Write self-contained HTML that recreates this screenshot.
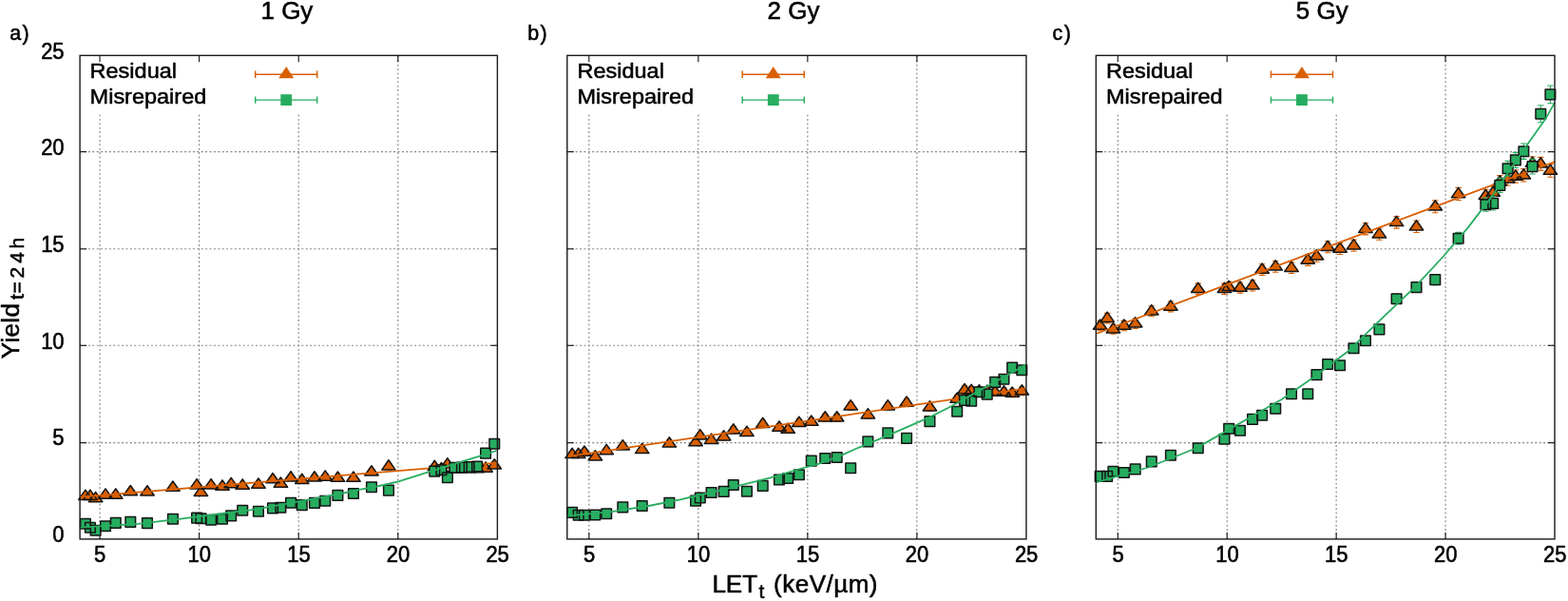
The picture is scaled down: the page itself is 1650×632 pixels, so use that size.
<!DOCTYPE html>
<html lang="en">
<head>
<meta charset="utf-8">
<title>Residual and misrepaired yields vs LET</title>
<style>
html,body{margin:0;padding:0;background:#fff;}
body{width:1650px;height:632px;overflow:hidden;font-family:"Liberation Sans",Arial,Helvetica,sans-serif;}
svg{display:block;}
</style>
</head>
<body>
<svg width="1650" height="632" viewBox="0 0 1650 632" font-family="'Liberation Sans', Arial, Helvetica, sans-serif" fill="#000" role="img" aria-label="Residual and misrepaired yields versus LET for 1, 2 and 5 Gy">
<rect x="0" y="0" width="1650" height="632" fill="#fff"/>
<g id="panel-a">
<g stroke="#858585" stroke-width="1.1" stroke-dasharray="2 2.4" fill="none">
<line x1="105.02" y1="566.9" x2="105.02" y2="58.35"/>
<line x1="209.61" y1="566.9" x2="209.61" y2="58.35"/>
<line x1="314.21" y1="566.9" x2="314.21" y2="58.35"/>
<line x1="418.8" y1="566.9" x2="418.8" y2="58.35"/>
<line x1="84.1" y1="465.6" x2="523.4" y2="465.6"/>
<line x1="84.1" y1="363.3" x2="523.4" y2="363.3"/>
<line x1="84.1" y1="261.8" x2="523.4" y2="261.8"/>
<line x1="84.1" y1="159.6" x2="523.4" y2="159.6"/>
</g>
<rect x="84.1" y="58.35" width="255.9" height="61.35" fill="#fff"/>
<g stroke="#1a1a1a" stroke-width="1.15" fill="none">
<line x1="105.02" y1="566.9" x2="105.02" y2="559.9"/>
<line x1="105.02" y1="58.35" x2="105.02" y2="65.35"/>
<line x1="209.61" y1="566.9" x2="209.61" y2="559.9"/>
<line x1="209.61" y1="58.35" x2="209.61" y2="65.35"/>
<line x1="314.21" y1="566.9" x2="314.21" y2="559.9"/>
<line x1="314.21" y1="58.35" x2="314.21" y2="65.35"/>
<line x1="418.8" y1="566.9" x2="418.8" y2="559.9"/>
<line x1="418.8" y1="58.35" x2="418.8" y2="65.35"/>
<line x1="84.1" y1="465.6" x2="91.1" y2="465.6"/>
<line x1="523.4" y1="465.6" x2="516.4" y2="465.6"/>
<line x1="84.1" y1="363.3" x2="91.1" y2="363.3"/>
<line x1="523.4" y1="363.3" x2="516.4" y2="363.3"/>
<line x1="84.1" y1="261.8" x2="91.1" y2="261.8"/>
<line x1="523.4" y1="261.8" x2="516.4" y2="261.8"/>
<line x1="84.1" y1="159.6" x2="91.1" y2="159.6"/>
<line x1="523.4" y1="159.6" x2="516.4" y2="159.6"/>
</g>
<g stroke="#d95f02" stroke-width="1.1" fill="none">
<path d="M89.89 519.32V523.98M86.69 519.32h6.4M86.69 523.98h6.4"/>
<path d="M94.89 519.32V523.98M91.69 519.32h6.4M91.69 523.98h6.4"/>
<path d="M100.61 521.68V526.22M97.41 521.68h6.4M97.41 526.22h6.4"/>
<path d="M111 518.09V522.81M107.8 518.09h6.4M107.8 522.81h6.4"/>
<path d="M121.75 518.09V522.81M118.55 518.09h6.4M118.55 522.81h6.4"/>
<path d="M137.3 514.61V519.49M134.1 514.61h6.4M134.1 519.49h6.4"/>
<path d="M154.99 514.81V519.69M151.79 514.81h6.4M151.79 519.69h6.4"/>
<path d="M181.9 510V515.1M178.7 510h6.4M178.7 515.1h6.4"/>
<path d="M207.1 507.54V512.76M203.9 507.54h6.4M203.9 512.76h6.4"/>
<path d="M211.39 515.22V520.08M208.19 515.22h6.4M208.19 520.08h6.4"/>
<path d="M222.1 507.54V512.76M218.9 507.54h6.4M218.9 512.76h6.4"/>
<path d="M234.01 508.87V514.03M230.81 508.87h6.4M230.81 514.03h6.4"/>
<path d="M243.19 506.32V511.58M239.99 506.32h6.4M239.99 511.58h6.4"/>
<path d="M255.22 507.85V513.05M252.02 507.85h6.4M252.02 513.05h6.4"/>
<path d="M271.95 506.83V512.07M268.75 506.83h6.4M268.75 512.07h6.4"/>
<path d="M287.01 501.31V506.79M283.81 501.31h6.4M283.81 506.79h6.4"/>
<path d="M295.38 505.91V511.19M292.18 505.91h6.4M292.18 511.19h6.4"/>
<path d="M306.05 499.47V505.03M302.85 499.47h6.4M302.85 505.03h6.4"/>
<path d="M317.77 502.13V507.57M314.57 502.13h6.4M314.57 507.57h6.4"/>
<path d="M330.94 499.57V505.13M327.74 499.57h6.4M327.74 505.13h6.4"/>
<path d="M342.24 498.65V504.25M339.04 498.65h6.4M339.04 504.25h6.4"/>
<path d="M355.42 499.78V505.32M352.22 499.78h6.4M352.22 505.32h6.4"/>
<path d="M371.95 499.78V505.32M368.75 499.78h6.4M368.75 505.32h6.4"/>
<path d="M390.98 493.35V499.15M387.78 493.35h6.4M387.78 499.15h6.4"/>
<path d="M408.97 487.33V493.37M405.77 487.33h6.4M405.77 493.37h6.4"/>
<path d="M457.3 487.84V493.86M454.1 487.84h6.4M454.1 493.86h6.4"/>
<path d="M464.41 490.08V496.02M461.21 490.08h6.4M461.21 496.02h6.4"/>
<path d="M470.89 485.29V491.41M467.69 485.29h6.4M467.69 491.41h6.4"/>
<path d="M478.42 490.08V496.02M475.22 490.08h6.4M475.22 496.02h6.4"/>
<path d="M485.95 490.08V496.02M482.75 490.08h6.4M482.75 496.02h6.4"/>
<path d="M493.69 490.08V496.02M490.49 490.08h6.4M490.49 496.02h6.4"/>
<path d="M502.06 490.08V496.02M498.86 490.08h6.4M498.86 496.02h6.4"/>
<path d="M511.06 489.47V495.43M507.86 489.47h6.4M507.86 495.43h6.4"/>
<path d="M520.26 486.21V492.29M517.06 486.21h6.4M517.06 492.29h6.4"/>
</g>
<g fill="#d95f02" stroke="none">
<path d="M82.69 525.4L89.89 515.1L97.09 525.4Z"/>
<path d="M87.69 525.4L94.89 515.1L102.09 525.4Z"/>
<path d="M93.41 527.7L100.61 517.4L107.81 527.7Z"/>
<path d="M103.8 524.2L111 513.9L118.2 524.2Z"/>
<path d="M114.55 524.2L121.75 513.9L128.95 524.2Z"/>
<path d="M130.1 520.8L137.3 510.5L144.5 520.8Z"/>
<path d="M147.79 521L154.99 510.7L162.19 521Z"/>
<path d="M174.7 516.3L181.9 506L189.1 516.3Z"/>
<path d="M199.9 513.9L207.1 503.6L214.3 513.9Z"/>
<path d="M204.19 521.4L211.39 511.1L218.59 521.4Z"/>
<path d="M214.9 513.9L222.1 503.6L229.3 513.9Z"/>
<path d="M226.81 515.2L234.01 504.9L241.21 515.2Z"/>
<path d="M235.99 512.7L243.19 502.4L250.39 512.7Z"/>
<path d="M248.02 514.2L255.22 503.9L262.42 514.2Z"/>
<path d="M264.75 513.2L271.95 502.9L279.15 513.2Z"/>
<path d="M279.81 507.8L287.01 497.5L294.21 507.8Z"/>
<path d="M288.18 512.3L295.38 502L302.58 512.3Z"/>
<path d="M298.85 506L306.05 495.7L313.25 506Z"/>
<path d="M310.57 508.6L317.77 498.3L324.97 508.6Z"/>
<path d="M323.74 506.1L330.94 495.8L338.14 506.1Z"/>
<path d="M335.04 505.2L342.24 494.9L349.44 505.2Z"/>
<path d="M348.22 506.3L355.42 496L362.62 506.3Z"/>
<path d="M364.75 506.3L371.95 496L379.15 506.3Z"/>
<path d="M383.78 500L390.98 489.7L398.18 500Z"/>
<path d="M401.77 494.1L408.97 483.8L416.17 494.1Z"/>
<path d="M450.1 494.6L457.3 484.3L464.5 494.6Z"/>
<path d="M457.21 496.8L464.41 486.5L471.61 496.8Z"/>
<path d="M463.69 492.1L470.89 481.8L478.09 492.1Z"/>
<path d="M471.22 496.8L478.42 486.5L485.62 496.8Z"/>
<path d="M478.75 496.8L485.95 486.5L493.15 496.8Z"/>
<path d="M486.49 496.8L493.69 486.5L500.89 496.8Z"/>
<path d="M494.86 496.8L502.06 486.5L509.26 496.8Z"/>
<path d="M503.86 496.2L511.06 485.9L518.26 496.2Z"/>
<path d="M513.06 493L520.26 482.7L527.46 493Z"/>
</g>
<g fill="none" stroke="#141414" stroke-width="1.5" stroke-linejoin="round">
<path d="M82.69 525.4L89.89 515.1L97.09 525.4Z"/>
<path d="M87.69 525.4L94.89 515.1L102.09 525.4Z"/>
<path d="M93.41 527.7L100.61 517.4L107.81 527.7Z"/>
<path d="M103.8 524.2L111 513.9L118.2 524.2Z"/>
<path d="M114.55 524.2L121.75 513.9L128.95 524.2Z"/>
<path d="M130.1 520.8L137.3 510.5L144.5 520.8Z"/>
<path d="M147.79 521L154.99 510.7L162.19 521Z"/>
<path d="M174.7 516.3L181.9 506L189.1 516.3Z"/>
<path d="M199.9 513.9L207.1 503.6L214.3 513.9Z"/>
<path d="M204.19 521.4L211.39 511.1L218.59 521.4Z"/>
<path d="M214.9 513.9L222.1 503.6L229.3 513.9Z"/>
<path d="M226.81 515.2L234.01 504.9L241.21 515.2Z"/>
<path d="M235.99 512.7L243.19 502.4L250.39 512.7Z"/>
<path d="M248.02 514.2L255.22 503.9L262.42 514.2Z"/>
<path d="M264.75 513.2L271.95 502.9L279.15 513.2Z"/>
<path d="M279.81 507.8L287.01 497.5L294.21 507.8Z"/>
<path d="M288.18 512.3L295.38 502L302.58 512.3Z"/>
<path d="M298.85 506L306.05 495.7L313.25 506Z"/>
<path d="M310.57 508.6L317.77 498.3L324.97 508.6Z"/>
<path d="M323.74 506.1L330.94 495.8L338.14 506.1Z"/>
<path d="M335.04 505.2L342.24 494.9L349.44 505.2Z"/>
<path d="M348.22 506.3L355.42 496L362.62 506.3Z"/>
<path d="M364.75 506.3L371.95 496L379.15 506.3Z"/>
<path d="M383.78 500L390.98 489.7L398.18 500Z"/>
<path d="M401.77 494.1L408.97 483.8L416.17 494.1Z"/>
<path d="M450.1 494.6L457.3 484.3L464.5 494.6Z"/>
<path d="M457.21 496.8L464.41 486.5L471.61 496.8Z"/>
<path d="M463.69 492.1L470.89 481.8L478.09 492.1Z"/>
<path d="M471.22 496.8L478.42 486.5L485.62 496.8Z"/>
<path d="M478.75 496.8L485.95 486.5L493.15 496.8Z"/>
<path d="M486.49 496.8L493.69 486.5L500.89 496.8Z"/>
<path d="M494.86 496.8L502.06 486.5L509.26 496.8Z"/>
<path d="M503.86 496.2L511.06 485.9L518.26 496.2Z"/>
<path d="M513.06 493L520.26 482.7L527.46 493Z"/>
</g>
<polyline fill="none" stroke="#d95f02" stroke-width="1.8" stroke-linejoin="round" points="84.1,522.6 523.4,486.6"/>
<g stroke="#27ad60" stroke-width="1.1" fill="none">
<path d="M89.89 550.48V551.12M86.69 550.48h6.4M86.69 551.12h6.4"/>
<path d="M94.89 554.56V555.04M91.69 554.56h6.4M91.69 555.04h6.4"/>
<path d="M100.61 557.51V557.89M97.41 557.51h6.4M97.41 557.89h6.4"/>
<path d="M111 553.03V553.57M107.8 553.03h6.4M107.8 553.57h6.4"/>
<path d="M121.75 549.56V550.24M118.55 549.56h6.4M118.55 550.24h6.4"/>
<path d="M137.3 548.54V549.26M134.1 548.54h6.4M134.1 549.26h6.4"/>
<path d="M154.99 549.76V550.44M151.79 549.76h6.4M151.79 550.44h6.4"/>
<path d="M181.9 545.27V546.13M178.7 545.27h6.4M178.7 546.13h6.4"/>
<path d="M207.1 544.15V545.05M203.9 544.15h6.4M203.9 545.05h6.4"/>
<path d="M211.39 544.76V545.64M208.19 544.76h6.4M208.19 545.64h6.4"/>
<path d="M222.1 546.29V547.11M218.9 546.29h6.4M218.9 547.11h6.4"/>
<path d="M234.01 545.37V546.23M230.81 545.37h6.4M230.81 546.23h6.4"/>
<path d="M243.19 541.91V542.89M239.99 541.91h6.4M239.99 542.89h6.4"/>
<path d="M255.22 536.09V537.31M252.02 536.09h6.4M252.02 537.31h6.4"/>
<path d="M271.95 537.21V538.39M268.75 537.21h6.4M268.75 538.39h6.4"/>
<path d="M287.01 533.74V535.06M283.81 533.74h6.4M283.81 535.06h6.4"/>
<path d="M295.38 533.13V534.47M292.18 533.13h6.4M292.18 534.47h6.4"/>
<path d="M306.05 528.03V529.57M302.85 528.03h6.4M302.85 529.57h6.4"/>
<path d="M317.77 530.38V531.82M314.57 530.38h6.4M314.57 531.82h6.4"/>
<path d="M330.94 528.13V529.67M327.74 528.13h6.4M327.74 529.67h6.4"/>
<path d="M342.24 525.89V527.51M339.04 525.89h6.4M339.04 527.51h6.4"/>
<path d="M355.42 519.97V521.83M352.22 519.97h6.4M352.22 521.83h6.4"/>
<path d="M371.95 518.03V519.97M368.75 518.03h6.4M368.75 519.97h6.4"/>
<path d="M390.98 511.1V513.3M387.78 511.1h6.4M387.78 513.3h6.4"/>
<path d="M408.97 514.57V516.63M405.77 514.57h6.4M405.77 516.63h6.4"/>
<path d="M457.3 494.16V497.04M454.1 494.16h6.4M454.1 497.04h6.4"/>
<path d="M464.41 492.84V495.76M461.21 492.84h6.4M461.21 495.76h6.4"/>
<path d="M470.89 500.9V503.5M467.69 500.9h6.4M467.69 503.5h6.4"/>
<path d="M478.42 490.29V493.31M475.22 490.29h6.4M475.22 493.31h6.4"/>
<path d="M485.95 489.98V493.02M482.75 489.98h6.4M482.75 493.02h6.4"/>
<path d="M493.69 489.47V492.53M490.49 489.47h6.4M490.49 492.53h6.4"/>
<path d="M502.06 488.96V492.04M498.86 488.96h6.4M498.86 492.04h6.4"/>
<path d="M511.06 474.78V478.42M507.86 474.78h6.4M507.86 478.42h6.4"/>
<path d="M520.26 464.68V468.72M517.06 464.68h6.4M517.06 468.72h6.4"/>
</g>
<g fill="#27ad60" stroke="none">
<rect x="84.59" y="545.5" width="10.6" height="10.6"/>
<rect x="89.59" y="549.5" width="10.6" height="10.6"/>
<rect x="95.31" y="552.4" width="10.6" height="10.6"/>
<rect x="105.7" y="548" width="10.6" height="10.6"/>
<rect x="116.45" y="544.6" width="10.6" height="10.6"/>
<rect x="132" y="543.6" width="10.6" height="10.6"/>
<rect x="149.69" y="544.8" width="10.6" height="10.6"/>
<rect x="176.6" y="540.4" width="10.6" height="10.6"/>
<rect x="201.8" y="539.3" width="10.6" height="10.6"/>
<rect x="206.09" y="539.9" width="10.6" height="10.6"/>
<rect x="216.8" y="541.4" width="10.6" height="10.6"/>
<rect x="228.71" y="540.5" width="10.6" height="10.6"/>
<rect x="237.89" y="537.1" width="10.6" height="10.6"/>
<rect x="249.92" y="531.4" width="10.6" height="10.6"/>
<rect x="266.65" y="532.5" width="10.6" height="10.6"/>
<rect x="281.71" y="529.1" width="10.6" height="10.6"/>
<rect x="290.08" y="528.5" width="10.6" height="10.6"/>
<rect x="300.75" y="523.5" width="10.6" height="10.6"/>
<rect x="312.47" y="525.8" width="10.6" height="10.6"/>
<rect x="325.64" y="523.6" width="10.6" height="10.6"/>
<rect x="336.94" y="521.4" width="10.6" height="10.6"/>
<rect x="350.12" y="515.6" width="10.6" height="10.6"/>
<rect x="366.65" y="513.7" width="10.6" height="10.6"/>
<rect x="385.68" y="506.9" width="10.6" height="10.6"/>
<rect x="403.67" y="510.3" width="10.6" height="10.6"/>
<rect x="452" y="490.3" width="10.6" height="10.6"/>
<rect x="459.11" y="489" width="10.6" height="10.6"/>
<rect x="465.59" y="496.9" width="10.6" height="10.6"/>
<rect x="473.12" y="486.5" width="10.6" height="10.6"/>
<rect x="480.65" y="486.2" width="10.6" height="10.6"/>
<rect x="488.39" y="485.7" width="10.6" height="10.6"/>
<rect x="496.76" y="485.2" width="10.6" height="10.6"/>
<rect x="505.76" y="471.3" width="10.6" height="10.6"/>
<rect x="514.96" y="461.4" width="10.6" height="10.6"/>
</g>
<g fill="none" stroke="#141414" stroke-width="1.5" stroke-linejoin="round">
<rect x="84.59" y="545.5" width="10.6" height="10.6"/>
<rect x="89.59" y="549.5" width="10.6" height="10.6"/>
<rect x="95.31" y="552.4" width="10.6" height="10.6"/>
<rect x="105.7" y="548" width="10.6" height="10.6"/>
<rect x="116.45" y="544.6" width="10.6" height="10.6"/>
<rect x="132" y="543.6" width="10.6" height="10.6"/>
<rect x="149.69" y="544.8" width="10.6" height="10.6"/>
<rect x="176.6" y="540.4" width="10.6" height="10.6"/>
<rect x="201.8" y="539.3" width="10.6" height="10.6"/>
<rect x="206.09" y="539.9" width="10.6" height="10.6"/>
<rect x="216.8" y="541.4" width="10.6" height="10.6"/>
<rect x="228.71" y="540.5" width="10.6" height="10.6"/>
<rect x="237.89" y="537.1" width="10.6" height="10.6"/>
<rect x="249.92" y="531.4" width="10.6" height="10.6"/>
<rect x="266.65" y="532.5" width="10.6" height="10.6"/>
<rect x="281.71" y="529.1" width="10.6" height="10.6"/>
<rect x="290.08" y="528.5" width="10.6" height="10.6"/>
<rect x="300.75" y="523.5" width="10.6" height="10.6"/>
<rect x="312.47" y="525.8" width="10.6" height="10.6"/>
<rect x="325.64" y="523.6" width="10.6" height="10.6"/>
<rect x="336.94" y="521.4" width="10.6" height="10.6"/>
<rect x="350.12" y="515.6" width="10.6" height="10.6"/>
<rect x="366.65" y="513.7" width="10.6" height="10.6"/>
<rect x="385.68" y="506.9" width="10.6" height="10.6"/>
<rect x="403.67" y="510.3" width="10.6" height="10.6"/>
<rect x="452" y="490.3" width="10.6" height="10.6"/>
<rect x="459.11" y="489" width="10.6" height="10.6"/>
<rect x="465.59" y="496.9" width="10.6" height="10.6"/>
<rect x="473.12" y="486.5" width="10.6" height="10.6"/>
<rect x="480.65" y="486.2" width="10.6" height="10.6"/>
<rect x="488.39" y="485.7" width="10.6" height="10.6"/>
<rect x="496.76" y="485.2" width="10.6" height="10.6"/>
<rect x="505.76" y="471.3" width="10.6" height="10.6"/>
<rect x="514.96" y="461.4" width="10.6" height="10.6"/>
</g>
<polyline fill="none" stroke="#27ad60" stroke-width="1.8" stroke-linejoin="round" points="84.1,554.6 145.8,550.8 168.6,548.2 192,545.4 263.4,536.3 278.6,533.8 360,518.8 378.3,514.9 396.6,511.5 408,509 420,506.2 451.6,496.2 502.3,480.4 522.5,474"/>
<rect x="84.1" y="58.35" width="439.3" height="508.55" fill="none" stroke="#1a1a1a" stroke-width="1.4"/>
<text transform="translate(94.6 81.7) scale(1 0.96)" font-size="23.5" stroke="#000" stroke-width="0.55">Residual</text>
<text transform="translate(94.6 108.9) scale(1 0.96)" font-size="23.5" stroke="#000" stroke-width="0.55">Misrepaired</text>
<path d="M268.7 78.3H333.7M268.7 74.6v7.4M333.7 74.6v7.4" stroke="#d95f02" stroke-width="1.45" fill="none"/>
<path d="M293.2 82.25L301.2 70L309.2 82.25Z" fill="#d95f02"/>
<path d="M268.7 105.1H333.7M268.7 101.4v7.4M333.7 101.4v7.4" stroke="#27ad60" stroke-width="1.45" fill="none"/>
<rect x="295.3" y="99.2" width="11.8" height="11.8" fill="#27ad60"/>
<text transform="translate(105.22 591.3) scale(1 1.06)" font-size="22" text-anchor="middle" stroke="#000" stroke-width="0.55">5</text>
<text transform="translate(209.81 591.3) scale(1 1.06)" font-size="22" text-anchor="middle" stroke="#000" stroke-width="0.55">10</text>
<text transform="translate(314.41 591.3) scale(1 1.06)" font-size="22" text-anchor="middle" stroke="#000" stroke-width="0.55">15</text>
<text transform="translate(419 591.3) scale(1 1.06)" font-size="22" text-anchor="middle" stroke="#000" stroke-width="0.55">20</text>
<text transform="translate(523.6 591.3) scale(1 1.06)" font-size="22" text-anchor="middle" stroke="#000" stroke-width="0.55">25</text>
<text transform="translate(67.6 570.2) scale(1 1.06)" font-size="22" text-anchor="end" stroke="#000" stroke-width="0.55">0</text>
<text transform="translate(67.6 468.49) scale(1 1.06)" font-size="22" text-anchor="end" stroke="#000" stroke-width="0.55">5</text>
<text transform="translate(67.6 366.78) scale(1 1.06)" font-size="22" text-anchor="end" stroke="#000" stroke-width="0.55">10</text>
<text transform="translate(67.6 265.07) scale(1 1.06)" font-size="22" text-anchor="end" stroke="#000" stroke-width="0.55">15</text>
<text transform="translate(67.6 163.36) scale(1 1.06)" font-size="22" text-anchor="end" stroke="#000" stroke-width="0.55">20</text>
<text transform="translate(67.6 61.65) scale(1 1.06)" font-size="22" text-anchor="end" stroke="#000" stroke-width="0.55">25</text>
<text transform="translate(301.9 19.9) scale(1 1.01)" font-size="26" text-anchor="middle" stroke="#000" stroke-width="0.55">1 Gy</text>
<text x="10.3" y="41.9" font-size="21.4" stroke="#000" stroke-width="0.55" letter-spacing="1.4">a)</text>
</g>
<g id="panel-b">
<g stroke="#858585" stroke-width="1.1" stroke-dasharray="2 2.4" fill="none">
<line x1="619.8" y1="566.9" x2="619.8" y2="58.35"/>
<line x1="734.83" y1="566.9" x2="734.83" y2="58.35"/>
<line x1="849.85" y1="566.9" x2="849.85" y2="58.35"/>
<line x1="964.88" y1="566.9" x2="964.88" y2="58.35"/>
<line x1="596.8" y1="465.6" x2="1079.9" y2="465.6"/>
<line x1="596.8" y1="363.3" x2="1079.9" y2="363.3"/>
<line x1="596.8" y1="261.8" x2="1079.9" y2="261.8"/>
<line x1="596.8" y1="159.6" x2="1079.9" y2="159.6"/>
</g>
<rect x="596.8" y="58.35" width="258.2" height="61.35" fill="#fff"/>
<g stroke="#1a1a1a" stroke-width="1.15" fill="none">
<line x1="619.8" y1="566.9" x2="619.8" y2="559.9"/>
<line x1="619.8" y1="58.35" x2="619.8" y2="65.35"/>
<line x1="734.83" y1="566.9" x2="734.83" y2="559.9"/>
<line x1="734.83" y1="58.35" x2="734.83" y2="65.35"/>
<line x1="849.85" y1="566.9" x2="849.85" y2="559.9"/>
<line x1="849.85" y1="58.35" x2="849.85" y2="65.35"/>
<line x1="964.88" y1="566.9" x2="964.88" y2="559.9"/>
<line x1="964.88" y1="58.35" x2="964.88" y2="65.35"/>
<line x1="596.8" y1="465.6" x2="603.8" y2="465.6"/>
<line x1="1079.9" y1="465.6" x2="1072.9" y2="465.6"/>
<line x1="596.8" y1="363.3" x2="603.8" y2="363.3"/>
<line x1="1079.9" y1="363.3" x2="1072.9" y2="363.3"/>
<line x1="596.8" y1="261.8" x2="603.8" y2="261.8"/>
<line x1="1079.9" y1="261.8" x2="1072.9" y2="261.8"/>
<line x1="596.8" y1="159.6" x2="603.8" y2="159.6"/>
<line x1="1079.9" y1="159.6" x2="1072.9" y2="159.6"/>
</g>
<g stroke="#d95f02" stroke-width="1.1" fill="none">
<path d="M602.09 474.59V481.11M598.89 474.59h6.4M598.89 481.11h6.4"/>
<path d="M608.67 474.59V481.11M605.47 474.59h6.4M605.47 481.11h6.4"/>
<path d="M614.95 472.25V478.85M611.75 472.25h6.4M611.75 478.85h6.4"/>
<path d="M626.38 477.04V483.46M623.18 477.04h6.4M623.18 483.46h6.4"/>
<path d="M638.21 470.62V477.28M635.01 470.62h6.4M635.01 477.28h6.4"/>
<path d="M655.3 465.74V472.56M652.1 465.74h6.4M652.1 472.56h6.4"/>
<path d="M675.71 469.5V476.2M672.51 469.5h6.4M672.51 476.2h6.4"/>
<path d="M704.35 462.89V469.81M701.15 462.89h6.4M701.15 469.81h6.4"/>
<path d="M732.07 461.47V468.43M728.87 461.47h6.4M728.87 468.43h6.4"/>
<path d="M736.78 454.55V461.75M733.58 454.55h6.4M733.58 461.75h6.4"/>
<path d="M748.56 459.13V466.17M745.36 459.13h6.4M745.36 466.17h6.4"/>
<path d="M761.65 455.67V462.83M758.45 455.67h6.4M758.45 462.83h6.4"/>
<path d="M771.75 448.66V456.04M768.55 448.66h6.4M768.55 456.04h6.4"/>
<path d="M785.9 450.99V458.31M782.7 450.99h6.4M782.7 458.31h6.4"/>
<path d="M802.69 442.05V449.65M799.49 442.05h6.4M799.49 449.65h6.4"/>
<path d="M819.95 445.71V453.19M816.75 445.71h6.4M816.75 453.19h6.4"/>
<path d="M829.15 447.84V455.26M825.95 447.84h6.4M825.95 455.26h6.4"/>
<path d="M840.88 440.84V448.46M837.68 440.84h6.4M837.68 448.46h6.4"/>
<path d="M853.76 439.72V447.38M850.56 439.72h6.4M850.56 447.38h6.4"/>
<path d="M868.26 435.35V443.15M865.06 435.35h6.4M865.06 443.15h6.4"/>
<path d="M880.68 435.35V443.15M877.48 435.35h6.4M877.48 443.15h6.4"/>
<path d="M895.17 423.07V431.23M891.97 423.07h6.4M891.97 431.23h6.4"/>
<path d="M913.35 432.21V440.09M910.15 432.21h6.4M910.15 440.09h6.4"/>
<path d="M934.28 423.07V431.23M931.08 423.07h6.4M931.08 431.23h6.4"/>
<path d="M954.06 419.32V427.58M950.86 419.32h6.4M950.86 427.58h6.4"/>
<path d="M978.45 424.19V432.31M975.25 424.19h6.4M975.25 432.31h6.4"/>
<path d="M1007.2 415.36V423.74M1004 415.36h6.4M1004 423.74h6.4"/>
<path d="M1015.03 405.73V414.37M1011.83 405.73h6.4M1011.83 414.37h6.4"/>
<path d="M1022.16 406.54V415.16M1018.96 406.54h6.4M1018.96 415.16h6.4"/>
<path d="M1030.44 406.95V415.55M1027.24 406.95h6.4M1027.24 415.55h6.4"/>
<path d="M1038.72 407.35V415.95M1035.52 407.35h6.4M1035.52 415.95h6.4"/>
<path d="M1047.23 407.96V416.54M1044.03 407.96h6.4M1044.03 416.54h6.4"/>
<path d="M1056.44 407.96V416.54M1053.24 407.96h6.4M1053.24 416.54h6.4"/>
<path d="M1065.18 409.28V417.82M1061.98 409.28h6.4M1061.98 417.82h6.4"/>
<path d="M1075.3 407.05V415.65M1072.1 407.05h6.4M1072.1 415.65h6.4"/>
</g>
<g fill="#d95f02" stroke="none">
<path d="M594.89 481.6L602.09 471.3L609.29 481.6Z"/>
<path d="M601.47 481.6L608.67 471.3L615.87 481.6Z"/>
<path d="M607.75 479.3L614.95 469L622.15 479.3Z"/>
<path d="M619.18 484L626.38 473.7L633.58 484Z"/>
<path d="M631.01 477.7L638.21 467.4L645.41 477.7Z"/>
<path d="M648.1 472.9L655.3 462.6L662.5 472.9Z"/>
<path d="M668.51 476.6L675.71 466.3L682.91 476.6Z"/>
<path d="M697.15 470.1L704.35 459.8L711.55 470.1Z"/>
<path d="M724.87 468.7L732.07 458.4L739.27 468.7Z"/>
<path d="M729.58 461.9L736.78 451.6L743.98 461.9Z"/>
<path d="M741.36 466.4L748.56 456.1L755.76 466.4Z"/>
<path d="M754.45 463L761.65 452.7L768.85 463Z"/>
<path d="M764.55 456.1L771.75 445.8L778.95 456.1Z"/>
<path d="M778.7 458.4L785.9 448.1L793.1 458.4Z"/>
<path d="M795.49 449.6L802.69 439.3L809.89 449.6Z"/>
<path d="M812.75 453.2L819.95 442.9L827.15 453.2Z"/>
<path d="M821.95 455.3L829.15 445L836.35 455.3Z"/>
<path d="M833.68 448.4L840.88 438.1L848.08 448.4Z"/>
<path d="M846.56 447.3L853.76 437L860.96 447.3Z"/>
<path d="M861.06 443L868.26 432.7L875.46 443Z"/>
<path d="M873.48 443L880.68 432.7L887.88 443Z"/>
<path d="M887.97 430.9L895.17 420.6L902.37 430.9Z"/>
<path d="M906.15 439.9L913.35 429.6L920.55 439.9Z"/>
<path d="M927.08 430.9L934.28 420.6L941.48 430.9Z"/>
<path d="M946.86 427.2L954.06 416.9L961.26 427.2Z"/>
<path d="M971.25 432L978.45 421.7L985.65 432Z"/>
<path d="M1000 423.3L1007.2 413L1014.4 423.3Z"/>
<path d="M1007.83 413.8L1015.03 403.5L1022.23 413.8Z"/>
<path d="M1014.96 414.6L1022.16 404.3L1029.36 414.6Z"/>
<path d="M1023.24 415L1030.44 404.7L1037.64 415Z"/>
<path d="M1031.52 415.4L1038.72 405.1L1045.92 415.4Z"/>
<path d="M1040.03 416L1047.23 405.7L1054.43 416Z"/>
<path d="M1049.24 416L1056.44 405.7L1063.64 416Z"/>
<path d="M1057.98 417.3L1065.18 407L1072.38 417.3Z"/>
<path d="M1068.1 415.1L1075.3 404.8L1082.5 415.1Z"/>
</g>
<g fill="none" stroke="#141414" stroke-width="1.5" stroke-linejoin="round">
<path d="M594.89 481.6L602.09 471.3L609.29 481.6Z"/>
<path d="M601.47 481.6L608.67 471.3L615.87 481.6Z"/>
<path d="M607.75 479.3L614.95 469L622.15 479.3Z"/>
<path d="M619.18 484L626.38 473.7L633.58 484Z"/>
<path d="M631.01 477.7L638.21 467.4L645.41 477.7Z"/>
<path d="M648.1 472.9L655.3 462.6L662.5 472.9Z"/>
<path d="M668.51 476.6L675.71 466.3L682.91 476.6Z"/>
<path d="M697.15 470.1L704.35 459.8L711.55 470.1Z"/>
<path d="M724.87 468.7L732.07 458.4L739.27 468.7Z"/>
<path d="M729.58 461.9L736.78 451.6L743.98 461.9Z"/>
<path d="M741.36 466.4L748.56 456.1L755.76 466.4Z"/>
<path d="M754.45 463L761.65 452.7L768.85 463Z"/>
<path d="M764.55 456.1L771.75 445.8L778.95 456.1Z"/>
<path d="M778.7 458.4L785.9 448.1L793.1 458.4Z"/>
<path d="M795.49 449.6L802.69 439.3L809.89 449.6Z"/>
<path d="M812.75 453.2L819.95 442.9L827.15 453.2Z"/>
<path d="M821.95 455.3L829.15 445L836.35 455.3Z"/>
<path d="M833.68 448.4L840.88 438.1L848.08 448.4Z"/>
<path d="M846.56 447.3L853.76 437L860.96 447.3Z"/>
<path d="M861.06 443L868.26 432.7L875.46 443Z"/>
<path d="M873.48 443L880.68 432.7L887.88 443Z"/>
<path d="M887.97 430.9L895.17 420.6L902.37 430.9Z"/>
<path d="M906.15 439.9L913.35 429.6L920.55 439.9Z"/>
<path d="M927.08 430.9L934.28 420.6L941.48 430.9Z"/>
<path d="M946.86 427.2L954.06 416.9L961.26 427.2Z"/>
<path d="M971.25 432L978.45 421.7L985.65 432Z"/>
<path d="M1000 423.3L1007.2 413L1014.4 423.3Z"/>
<path d="M1007.83 413.8L1015.03 403.5L1022.23 413.8Z"/>
<path d="M1014.96 414.6L1022.16 404.3L1029.36 414.6Z"/>
<path d="M1023.24 415L1030.44 404.7L1037.64 415Z"/>
<path d="M1031.52 415.4L1038.72 405.1L1045.92 415.4Z"/>
<path d="M1040.03 416L1047.23 405.7L1054.43 416Z"/>
<path d="M1049.24 416L1056.44 405.7L1063.64 416Z"/>
<path d="M1057.98 417.3L1065.18 407L1072.38 417.3Z"/>
<path d="M1068.1 415.1L1075.3 404.8L1082.5 415.1Z"/>
</g>
<polyline fill="none" stroke="#d95f02" stroke-width="1.8" stroke-linejoin="round" points="596.8,480.1 1080,408.4"/>
<g stroke="#27ad60" stroke-width="1.1" fill="none">
<path d="M602.09 538.34V539.46M598.89 538.34h6.4M598.89 539.46h6.4"/>
<path d="M608.67 541.29V542.31M605.47 541.29h6.4M605.47 542.31h6.4"/>
<path d="M614.95 541.29V542.31M611.75 541.29h6.4M611.75 542.31h6.4"/>
<path d="M626.38 540.99V542.01M623.18 540.99h6.4M623.18 542.01h6.4"/>
<path d="M638.21 539.66V540.74M635.01 539.66h6.4M635.01 540.74h6.4"/>
<path d="M655.3 532.72V534.08M652.1 532.72h6.4M652.1 534.08h6.4"/>
<path d="M675.71 531.3V532.7M672.51 531.3h6.4M672.51 532.7h6.4"/>
<path d="M704.35 527.93V529.47M701.15 527.93h6.4M701.15 529.47h6.4"/>
<path d="M732.07 525.79V527.41M728.87 525.79h6.4M728.87 527.41h6.4"/>
<path d="M736.78 522.63V524.37M733.58 522.63h6.4M733.58 524.37h6.4"/>
<path d="M748.56 517.01V518.99M745.36 517.01h6.4M745.36 518.99h6.4"/>
<path d="M761.65 515.89V517.91M758.45 515.89h6.4M758.45 517.91h6.4"/>
<path d="M771.75 508.85V511.15M768.55 508.85h6.4M768.55 511.15h6.4"/>
<path d="M785.9 515.69V517.71M782.7 515.69h6.4M782.7 517.71h6.4"/>
<path d="M802.69 509.77V512.03M799.49 509.77h6.4M799.49 512.03h6.4"/>
<path d="M819.95 503.24V505.76M816.75 503.24h6.4M816.75 505.76h6.4"/>
<path d="M829.15 501.71V504.29M825.95 501.71h6.4M825.95 504.29h6.4"/>
<path d="M840.88 497.94V500.66M837.68 497.94h6.4M837.68 500.66h6.4"/>
<path d="M853.76 482.94V486.26M850.56 482.94h6.4M850.56 486.26h6.4"/>
<path d="M868.26 480.29V483.71M865.06 480.29h6.4M865.06 483.71h6.4"/>
<path d="M880.68 479.27V482.73M877.48 479.27h6.4M877.48 482.73h6.4"/>
<path d="M895.17 490.69V493.71M891.97 490.69h6.4M891.97 493.71h6.4"/>
<path d="M913.35 462.33V466.47M910.15 462.33h6.4M910.15 466.47h6.4"/>
<path d="M934.28 453.15V457.65M931.08 453.15h6.4M931.08 457.65h6.4"/>
<path d="M954.06 458.76V463.04M950.86 458.76h6.4M950.86 463.04h6.4"/>
<path d="M978.45 440.6V445.6M975.25 440.6h6.4M975.25 445.6h6.4"/>
<path d="M1007.2 430.1V435.5M1004 430.1h6.4M1004 435.5h6.4"/>
<path d="M1015.03 417.96V423.84M1011.83 417.96h6.4M1011.83 423.84h6.4"/>
<path d="M1022.16 418.77V424.63M1018.96 418.77h6.4M1018.96 424.63h6.4"/>
<path d="M1030.44 409.08V415.32M1027.24 409.08h6.4M1027.24 415.32h6.4"/>
<path d="M1038.72 411.53V417.67M1035.52 411.53h6.4M1035.52 417.67h6.4"/>
<path d="M1047.23 398.57V405.23M1044.03 398.57h6.4M1044.03 405.23h6.4"/>
<path d="M1056.44 395.41V402.19M1053.24 395.41h6.4M1053.24 402.19h6.4"/>
<path d="M1065.18 382.97V390.23M1061.98 382.97h6.4M1061.98 390.23h6.4"/>
<path d="M1075.3 385.72V392.88M1072.1 385.72h6.4M1072.1 392.88h6.4"/>
</g>
<g fill="#27ad60" stroke="none">
<rect x="596.79" y="533.6" width="10.6" height="10.6"/>
<rect x="603.37" y="536.5" width="10.6" height="10.6"/>
<rect x="609.65" y="536.5" width="10.6" height="10.6"/>
<rect x="621.08" y="536.2" width="10.6" height="10.6"/>
<rect x="632.91" y="534.9" width="10.6" height="10.6"/>
<rect x="650" y="528.1" width="10.6" height="10.6"/>
<rect x="670.41" y="526.7" width="10.6" height="10.6"/>
<rect x="699.05" y="523.4" width="10.6" height="10.6"/>
<rect x="726.77" y="521.3" width="10.6" height="10.6"/>
<rect x="731.48" y="518.2" width="10.6" height="10.6"/>
<rect x="743.26" y="512.7" width="10.6" height="10.6"/>
<rect x="756.35" y="511.6" width="10.6" height="10.6"/>
<rect x="766.45" y="504.7" width="10.6" height="10.6"/>
<rect x="780.6" y="511.4" width="10.6" height="10.6"/>
<rect x="797.39" y="505.6" width="10.6" height="10.6"/>
<rect x="814.65" y="499.2" width="10.6" height="10.6"/>
<rect x="823.85" y="497.7" width="10.6" height="10.6"/>
<rect x="835.58" y="494" width="10.6" height="10.6"/>
<rect x="848.46" y="479.3" width="10.6" height="10.6"/>
<rect x="862.96" y="476.7" width="10.6" height="10.6"/>
<rect x="875.38" y="475.7" width="10.6" height="10.6"/>
<rect x="889.87" y="486.9" width="10.6" height="10.6"/>
<rect x="908.05" y="459.1" width="10.6" height="10.6"/>
<rect x="928.98" y="450.1" width="10.6" height="10.6"/>
<rect x="948.76" y="455.6" width="10.6" height="10.6"/>
<rect x="973.15" y="437.8" width="10.6" height="10.6"/>
<rect x="1001.9" y="427.5" width="10.6" height="10.6"/>
<rect x="1009.73" y="415.6" width="10.6" height="10.6"/>
<rect x="1016.86" y="416.4" width="10.6" height="10.6"/>
<rect x="1025.14" y="406.9" width="10.6" height="10.6"/>
<rect x="1033.42" y="409.3" width="10.6" height="10.6"/>
<rect x="1041.93" y="396.6" width="10.6" height="10.6"/>
<rect x="1051.14" y="393.5" width="10.6" height="10.6"/>
<rect x="1059.88" y="381.3" width="10.6" height="10.6"/>
<rect x="1070" y="384" width="10.6" height="10.6"/>
</g>
<g fill="none" stroke="#141414" stroke-width="1.5" stroke-linejoin="round">
<rect x="596.79" y="533.6" width="10.6" height="10.6"/>
<rect x="603.37" y="536.5" width="10.6" height="10.6"/>
<rect x="609.65" y="536.5" width="10.6" height="10.6"/>
<rect x="621.08" y="536.2" width="10.6" height="10.6"/>
<rect x="632.91" y="534.9" width="10.6" height="10.6"/>
<rect x="650" y="528.1" width="10.6" height="10.6"/>
<rect x="670.41" y="526.7" width="10.6" height="10.6"/>
<rect x="699.05" y="523.4" width="10.6" height="10.6"/>
<rect x="726.77" y="521.3" width="10.6" height="10.6"/>
<rect x="731.48" y="518.2" width="10.6" height="10.6"/>
<rect x="743.26" y="512.7" width="10.6" height="10.6"/>
<rect x="756.35" y="511.6" width="10.6" height="10.6"/>
<rect x="766.45" y="504.7" width="10.6" height="10.6"/>
<rect x="780.6" y="511.4" width="10.6" height="10.6"/>
<rect x="797.39" y="505.6" width="10.6" height="10.6"/>
<rect x="814.65" y="499.2" width="10.6" height="10.6"/>
<rect x="823.85" y="497.7" width="10.6" height="10.6"/>
<rect x="835.58" y="494" width="10.6" height="10.6"/>
<rect x="848.46" y="479.3" width="10.6" height="10.6"/>
<rect x="862.96" y="476.7" width="10.6" height="10.6"/>
<rect x="875.38" y="475.7" width="10.6" height="10.6"/>
<rect x="889.87" y="486.9" width="10.6" height="10.6"/>
<rect x="908.05" y="459.1" width="10.6" height="10.6"/>
<rect x="928.98" y="450.1" width="10.6" height="10.6"/>
<rect x="948.76" y="455.6" width="10.6" height="10.6"/>
<rect x="973.15" y="437.8" width="10.6" height="10.6"/>
<rect x="1001.9" y="427.5" width="10.6" height="10.6"/>
<rect x="1009.73" y="415.6" width="10.6" height="10.6"/>
<rect x="1016.86" y="416.4" width="10.6" height="10.6"/>
<rect x="1025.14" y="406.9" width="10.6" height="10.6"/>
<rect x="1033.42" y="409.3" width="10.6" height="10.6"/>
<rect x="1041.93" y="396.6" width="10.6" height="10.6"/>
<rect x="1051.14" y="393.5" width="10.6" height="10.6"/>
<rect x="1059.88" y="381.3" width="10.6" height="10.6"/>
<rect x="1070" y="384" width="10.6" height="10.6"/>
</g>
<polyline fill="none" stroke="#27ad60" stroke-width="1.8" stroke-linejoin="round" points="596.3,542.6 645.4,537.8 685,531.5 715.8,525.4 730,522 763.3,514.3 810.8,502.4 840,493.5 862,487.6 886.3,478.4 903.3,470.8 934.4,457.8 958.5,447.4 980,437.9 999.6,428 1070.8,388.5 1080,383"/>
<rect x="596.8" y="58.35" width="483.1" height="508.55" fill="none" stroke="#1a1a1a" stroke-width="1.4"/>
<text transform="translate(607.5 81.7) scale(1 0.96)" font-size="23.5" stroke="#000" stroke-width="0.55">Residual</text>
<text transform="translate(607.5 108.9) scale(1 0.96)" font-size="23.5" stroke="#000" stroke-width="0.55">Misrepaired</text>
<path d="M781.2 78.3H846.3M781.2 74.6v7.4M846.3 74.6v7.4" stroke="#d95f02" stroke-width="1.45" fill="none"/>
<path d="M805.75 82.25L813.75 70L821.75 82.25Z" fill="#d95f02"/>
<path d="M781.2 105.1H846.3M781.2 101.4v7.4M846.3 101.4v7.4" stroke="#27ad60" stroke-width="1.45" fill="none"/>
<rect x="807.85" y="99.2" width="11.8" height="11.8" fill="#27ad60"/>
<text transform="translate(620 591.3) scale(1 1.06)" font-size="22" text-anchor="middle" stroke="#000" stroke-width="0.55">5</text>
<text transform="translate(735.03 591.3) scale(1 1.06)" font-size="22" text-anchor="middle" stroke="#000" stroke-width="0.55">10</text>
<text transform="translate(850.05 591.3) scale(1 1.06)" font-size="22" text-anchor="middle" stroke="#000" stroke-width="0.55">15</text>
<text transform="translate(965.08 591.3) scale(1 1.06)" font-size="22" text-anchor="middle" stroke="#000" stroke-width="0.55">20</text>
<text transform="translate(1080.1 591.3) scale(1 1.06)" font-size="22" text-anchor="middle" stroke="#000" stroke-width="0.55">25</text>
<text transform="translate(835 19.9) scale(1 1.01)" font-size="26" text-anchor="middle" stroke="#000" stroke-width="0.55">2 Gy</text>
<text x="555.2" y="41.9" font-size="21.4" stroke="#000" stroke-width="0.55" letter-spacing="1.4">b)</text>
</g>
<g id="panel-c">
<g stroke="#858585" stroke-width="1.1" stroke-dasharray="2 2.4" fill="none">
<line x1="1176.29" y1="566.9" x2="1176.29" y2="58.35"/>
<line x1="1291.21" y1="566.9" x2="1291.21" y2="58.35"/>
<line x1="1406.14" y1="566.9" x2="1406.14" y2="58.35"/>
<line x1="1521.07" y1="566.9" x2="1521.07" y2="58.35"/>
<line x1="1153.3" y1="465.6" x2="1636" y2="465.6"/>
<line x1="1153.3" y1="363.3" x2="1636" y2="363.3"/>
<line x1="1153.3" y1="261.8" x2="1636" y2="261.8"/>
<line x1="1153.3" y1="159.6" x2="1636" y2="159.6"/>
</g>
<rect x="1153.5" y="58.35" width="258.5" height="61.35" fill="#fff"/>
<g stroke="#1a1a1a" stroke-width="1.15" fill="none">
<line x1="1176.29" y1="566.9" x2="1176.29" y2="559.9"/>
<line x1="1176.29" y1="58.35" x2="1176.29" y2="65.35"/>
<line x1="1291.21" y1="566.9" x2="1291.21" y2="559.9"/>
<line x1="1291.21" y1="58.35" x2="1291.21" y2="65.35"/>
<line x1="1406.14" y1="566.9" x2="1406.14" y2="559.9"/>
<line x1="1406.14" y1="58.35" x2="1406.14" y2="65.35"/>
<line x1="1521.07" y1="566.9" x2="1521.07" y2="559.9"/>
<line x1="1521.07" y1="58.35" x2="1521.07" y2="65.35"/>
<line x1="1153.3" y1="465.6" x2="1160.3" y2="465.6"/>
<line x1="1636" y1="465.6" x2="1629" y2="465.6"/>
<line x1="1153.3" y1="363.3" x2="1160.3" y2="363.3"/>
<line x1="1636" y1="363.3" x2="1629" y2="363.3"/>
<line x1="1153.3" y1="261.8" x2="1160.3" y2="261.8"/>
<line x1="1636" y1="261.8" x2="1629" y2="261.8"/>
<line x1="1153.3" y1="159.6" x2="1160.3" y2="159.6"/>
<line x1="1636" y1="159.6" x2="1629" y2="159.6"/>
</g>
<g stroke="#d95f02" stroke-width="1.1" fill="none">
<path d="M1157.67 337.39V347.71M1154.47 337.39h6.4M1154.47 347.71h6.4"/>
<path d="M1165.16 329.4V339.9M1161.96 329.4h6.4M1161.96 339.9h6.4"/>
<path d="M1171.44 341.03V351.27M1168.24 341.03h6.4M1168.24 351.27h6.4"/>
<path d="M1182.86 337.39V347.71M1179.66 337.39h6.4M1179.66 347.71h6.4"/>
<path d="M1194.67 335.06V345.44M1191.47 335.06h6.4M1191.47 345.44h6.4"/>
<path d="M1211.75 321.82V332.48M1208.55 321.82h6.4M1208.55 332.48h6.4"/>
<path d="M1231.91 317.06V327.84M1228.71 317.06h6.4M1228.71 327.84h6.4"/>
<path d="M1260.76 298.16V309.34M1257.56 298.16h6.4M1257.56 309.34h6.4"/>
<path d="M1288.46 298.16V309.34M1285.26 298.16h6.4M1285.26 309.34h6.4"/>
<path d="M1293.17 296.24V307.46M1289.97 296.24h6.4M1289.97 307.46h6.4"/>
<path d="M1304.94 296.95V308.15M1301.74 296.95h6.4M1301.74 308.15h6.4"/>
<path d="M1318.02 294.73V305.97M1314.82 294.73h6.4M1314.82 305.97h6.4"/>
<path d="M1328.11 277.75V289.35M1324.91 277.75h6.4M1324.91 289.35h6.4"/>
<path d="M1342.24 274.52V286.18M1339.04 274.52h6.4M1339.04 286.18h6.4"/>
<path d="M1359.02 275.83V287.47M1355.82 275.83h6.4M1355.82 287.47h6.4"/>
<path d="M1376.26 267.55V279.35M1373.06 267.55h6.4M1373.06 279.35h6.4"/>
<path d="M1385.46 263.31V275.19M1382.26 263.31h6.4M1382.26 275.19h6.4"/>
<path d="M1397.18 253.71V265.79M1393.98 253.71h6.4M1393.98 265.79h6.4"/>
<path d="M1410.05 255.43V267.47M1406.85 255.43h6.4M1406.85 267.47h6.4"/>
<path d="M1424.53 252.1V264.2M1421.33 252.1h6.4M1421.33 264.2h6.4"/>
<path d="M1436.94 234.43V246.87M1433.74 234.43h6.4M1433.74 246.87h6.4"/>
<path d="M1451.42 239.98V252.32M1448.22 239.98h6.4M1448.22 252.32h6.4"/>
<path d="M1469.58 227.56V240.14M1466.38 227.56h6.4M1466.38 240.14h6.4"/>
<path d="M1490.5 232.01V244.49M1487.3 232.01h6.4M1487.3 244.49h6.4"/>
<path d="M1510.27 210.81V223.69M1507.07 210.81h6.4M1507.07 223.69h6.4"/>
<path d="M1534.63 197.39V210.51M1531.43 197.39h6.4M1531.43 210.51h6.4"/>
<path d="M1563.37 199.21V212.29M1560.17 199.21h6.4M1560.17 212.29h6.4"/>
<path d="M1571.18 195.98V209.12M1567.98 195.98h6.4M1567.98 209.12h6.4"/>
<path d="M1578.31 184.58V197.92M1575.11 184.58h6.4M1575.11 197.92h6.4"/>
<path d="M1586.58 181.55V194.95M1583.38 181.55h6.4M1583.38 194.95h6.4"/>
<path d="M1594.86 178.72V192.18M1591.66 178.72h6.4M1591.66 192.18h6.4"/>
<path d="M1603.36 177.51V190.99M1600.16 177.51h6.4M1600.16 190.99h6.4"/>
<path d="M1612.55 164.7V178.4M1609.35 164.7h6.4M1609.35 178.4h6.4"/>
<path d="M1621.29 165.41V179.09M1618.09 165.41h6.4M1618.09 179.09h6.4"/>
<path d="M1631.4 172.67V186.23M1628.2 172.67h6.4M1628.2 186.23h6.4"/>
</g>
<g fill="#d95f02" stroke="none">
<path d="M1150.47 346.3L1157.67 336L1164.87 346.3Z"/>
<path d="M1157.96 338.4L1165.16 328.1L1172.36 338.4Z"/>
<path d="M1164.24 349.9L1171.44 339.6L1178.64 349.9Z"/>
<path d="M1175.66 346.3L1182.86 336L1190.06 346.3Z"/>
<path d="M1187.47 344L1194.67 333.7L1201.87 344Z"/>
<path d="M1204.55 330.9L1211.75 320.6L1218.95 330.9Z"/>
<path d="M1224.71 326.2L1231.91 315.9L1239.11 326.2Z"/>
<path d="M1253.56 307.5L1260.76 297.2L1267.96 307.5Z"/>
<path d="M1281.26 307.5L1288.46 297.2L1295.66 307.5Z"/>
<path d="M1285.97 305.6L1293.17 295.3L1300.37 305.6Z"/>
<path d="M1297.74 306.3L1304.94 296L1312.14 306.3Z"/>
<path d="M1310.82 304.1L1318.02 293.8L1325.22 304.1Z"/>
<path d="M1320.91 287.3L1328.11 277L1335.31 287.3Z"/>
<path d="M1335.04 284.1L1342.24 273.8L1349.44 284.1Z"/>
<path d="M1351.82 285.4L1359.02 275.1L1366.22 285.4Z"/>
<path d="M1369.06 277.2L1376.26 266.9L1383.46 277.2Z"/>
<path d="M1378.26 273L1385.46 262.7L1392.66 273Z"/>
<path d="M1389.98 263.5L1397.18 253.2L1404.38 263.5Z"/>
<path d="M1402.85 265.2L1410.05 254.9L1417.25 265.2Z"/>
<path d="M1417.33 261.9L1424.53 251.6L1431.73 261.9Z"/>
<path d="M1429.74 244.4L1436.94 234.1L1444.14 244.4Z"/>
<path d="M1444.22 249.9L1451.42 239.6L1458.62 249.9Z"/>
<path d="M1462.38 237.6L1469.58 227.3L1476.78 237.6Z"/>
<path d="M1483.3 242L1490.5 231.7L1497.7 242Z"/>
<path d="M1503.07 221L1510.27 210.7L1517.47 221Z"/>
<path d="M1527.43 207.7L1534.63 197.4L1541.83 207.7Z"/>
<path d="M1556.17 209.5L1563.37 199.2L1570.57 209.5Z"/>
<path d="M1563.98 206.3L1571.18 196L1578.38 206.3Z"/>
<path d="M1571.11 195L1578.31 184.7L1585.51 195Z"/>
<path d="M1579.38 192L1586.58 181.7L1593.78 192Z"/>
<path d="M1587.66 189.2L1594.86 178.9L1602.06 189.2Z"/>
<path d="M1596.16 188L1603.36 177.7L1610.56 188Z"/>
<path d="M1605.35 175.3L1612.55 165L1619.75 175.3Z"/>
<path d="M1614.09 176L1621.29 165.7L1628.49 176Z"/>
<path d="M1624.2 183.2L1631.4 172.9L1638.6 183.2Z"/>
</g>
<g fill="none" stroke="#141414" stroke-width="1.5" stroke-linejoin="round">
<path d="M1150.47 346.3L1157.67 336L1164.87 346.3Z"/>
<path d="M1157.96 338.4L1165.16 328.1L1172.36 338.4Z"/>
<path d="M1164.24 349.9L1171.44 339.6L1178.64 349.9Z"/>
<path d="M1175.66 346.3L1182.86 336L1190.06 346.3Z"/>
<path d="M1187.47 344L1194.67 333.7L1201.87 344Z"/>
<path d="M1204.55 330.9L1211.75 320.6L1218.95 330.9Z"/>
<path d="M1224.71 326.2L1231.91 315.9L1239.11 326.2Z"/>
<path d="M1253.56 307.5L1260.76 297.2L1267.96 307.5Z"/>
<path d="M1281.26 307.5L1288.46 297.2L1295.66 307.5Z"/>
<path d="M1285.97 305.6L1293.17 295.3L1300.37 305.6Z"/>
<path d="M1297.74 306.3L1304.94 296L1312.14 306.3Z"/>
<path d="M1310.82 304.1L1318.02 293.8L1325.22 304.1Z"/>
<path d="M1320.91 287.3L1328.11 277L1335.31 287.3Z"/>
<path d="M1335.04 284.1L1342.24 273.8L1349.44 284.1Z"/>
<path d="M1351.82 285.4L1359.02 275.1L1366.22 285.4Z"/>
<path d="M1369.06 277.2L1376.26 266.9L1383.46 277.2Z"/>
<path d="M1378.26 273L1385.46 262.7L1392.66 273Z"/>
<path d="M1389.98 263.5L1397.18 253.2L1404.38 263.5Z"/>
<path d="M1402.85 265.2L1410.05 254.9L1417.25 265.2Z"/>
<path d="M1417.33 261.9L1424.53 251.6L1431.73 261.9Z"/>
<path d="M1429.74 244.4L1436.94 234.1L1444.14 244.4Z"/>
<path d="M1444.22 249.9L1451.42 239.6L1458.62 249.9Z"/>
<path d="M1462.38 237.6L1469.58 227.3L1476.78 237.6Z"/>
<path d="M1483.3 242L1490.5 231.7L1497.7 242Z"/>
<path d="M1503.07 221L1510.27 210.7L1517.47 221Z"/>
<path d="M1527.43 207.7L1534.63 197.4L1541.83 207.7Z"/>
<path d="M1556.17 209.5L1563.37 199.2L1570.57 209.5Z"/>
<path d="M1563.98 206.3L1571.18 196L1578.38 206.3Z"/>
<path d="M1571.11 195L1578.31 184.7L1585.51 195Z"/>
<path d="M1579.38 192L1586.58 181.7L1593.78 192Z"/>
<path d="M1587.66 189.2L1594.86 178.9L1602.06 189.2Z"/>
<path d="M1596.16 188L1603.36 177.7L1610.56 188Z"/>
<path d="M1605.35 175.3L1612.55 165L1619.75 175.3Z"/>
<path d="M1614.09 176L1621.29 165.7L1628.49 176Z"/>
<path d="M1624.2 183.2L1631.4 172.9L1638.6 183.2Z"/>
</g>
<polyline fill="none" stroke="#d95f02" stroke-width="1.8" stroke-linejoin="round" points="1153.2,351 1636.2,170"/>
<g stroke="#27ad60" stroke-width="1.1" fill="none">
<path d="M1157.67 499.57V502.23M1154.47 499.57h6.4M1154.47 502.23h6.4"/>
<path d="M1165.16 499.57V502.23M1161.96 499.57h6.4M1161.96 502.23h6.4"/>
<path d="M1171.44 494.26V497.14M1168.24 494.26h6.4M1168.24 497.14h6.4"/>
<path d="M1182.86 495.59V498.41M1179.66 495.59h6.4M1179.66 498.41h6.4"/>
<path d="M1194.67 491.92V494.88M1191.47 491.92h6.4M1191.47 494.88h6.4"/>
<path d="M1211.75 483.76V487.04M1208.55 483.76h6.4M1208.55 487.04h6.4"/>
<path d="M1231.91 477.02V480.58M1228.71 477.02h6.4M1228.71 480.58h6.4"/>
<path d="M1260.76 469.27V473.13M1257.56 469.27h6.4M1257.56 473.13h6.4"/>
<path d="M1288.46 459.68V463.92M1285.26 459.68h6.4M1285.26 463.92h6.4"/>
<path d="M1293.17 448.36V453.04M1289.97 448.36h6.4M1289.97 453.04h6.4"/>
<path d="M1304.94 450.5V455.1M1301.74 450.5h6.4M1301.74 455.1h6.4"/>
<path d="M1318.02 438.36V443.44M1314.82 438.36h6.4M1314.82 443.44h6.4"/>
<path d="M1328.11 434.18V439.42M1324.91 434.18h6.4M1324.91 439.42h6.4"/>
<path d="M1342.24 427.04V432.56M1339.04 427.04h6.4M1339.04 432.56h6.4"/>
<path d="M1359.02 411.22V417.38M1355.82 411.22h6.4M1355.82 417.38h6.4"/>
<path d="M1376.26 411.22V417.38M1373.06 411.22h6.4M1373.06 417.38h6.4"/>
<path d="M1385.46 390.62V397.58M1382.26 390.62h6.4M1382.26 397.58h6.4"/>
<path d="M1397.18 379.29V386.71M1393.98 379.29h6.4M1393.98 386.71h6.4"/>
<path d="M1410.05 380.52V387.88M1406.85 380.52h6.4M1406.85 387.88h6.4"/>
<path d="M1424.53 362.15V370.25M1421.33 362.15h6.4M1421.33 370.25h6.4"/>
<path d="M1436.94 354.1V362.5M1433.74 354.1h6.4M1433.74 362.5h6.4"/>
<path d="M1451.42 341.96V350.84M1448.22 341.96h6.4M1448.22 350.84h6.4"/>
<path d="M1469.58 309.21V319.39M1466.38 309.21h6.4M1466.38 319.39h6.4"/>
<path d="M1490.5 296.76V307.44M1487.3 296.76h6.4M1487.3 307.44h6.4"/>
<path d="M1510.27 288.6V299.6M1507.07 288.6h6.4M1507.07 299.6h6.4"/>
<path d="M1534.63 244.33V257.07M1531.43 244.33h6.4M1531.43 257.07h6.4"/>
<path d="M1563.37 208.11V222.29M1560.17 208.11h6.4M1560.17 222.29h6.4"/>
<path d="M1571.18 206.79V221.01M1567.98 206.79h6.4M1567.98 221.01h6.4"/>
<path d="M1578.31 187.4V202.4M1575.11 187.4h6.4M1575.11 202.4h6.4"/>
<path d="M1586.58 169.35V185.05M1583.38 169.35h6.4M1583.38 185.05h6.4"/>
<path d="M1594.86 160.37V176.43M1591.66 160.37h6.4M1591.66 176.43h6.4"/>
<path d="M1603.36 150.98V167.42M1600.16 150.98h6.4M1600.16 167.42h6.4"/>
<path d="M1612.55 167.2V183M1609.35 167.2h6.4M1609.35 183h6.4"/>
<path d="M1621.29 110.69V128.71M1618.09 110.69h6.4M1618.09 128.71h6.4"/>
<path d="M1631.4 89.98V108.82M1628.2 89.98h6.4M1628.2 108.82h6.4"/>
</g>
<g fill="#27ad60" stroke="none">
<rect x="1152.37" y="495.6" width="10.6" height="10.6"/>
<rect x="1159.86" y="495.6" width="10.6" height="10.6"/>
<rect x="1166.14" y="490.4" width="10.6" height="10.6"/>
<rect x="1177.56" y="491.7" width="10.6" height="10.6"/>
<rect x="1189.37" y="488.1" width="10.6" height="10.6"/>
<rect x="1206.45" y="480.1" width="10.6" height="10.6"/>
<rect x="1226.61" y="473.5" width="10.6" height="10.6"/>
<rect x="1255.46" y="465.9" width="10.6" height="10.6"/>
<rect x="1283.16" y="456.5" width="10.6" height="10.6"/>
<rect x="1287.87" y="445.4" width="10.6" height="10.6"/>
<rect x="1299.64" y="447.5" width="10.6" height="10.6"/>
<rect x="1312.72" y="435.6" width="10.6" height="10.6"/>
<rect x="1322.81" y="431.5" width="10.6" height="10.6"/>
<rect x="1336.94" y="424.5" width="10.6" height="10.6"/>
<rect x="1353.72" y="409" width="10.6" height="10.6"/>
<rect x="1370.96" y="409" width="10.6" height="10.6"/>
<rect x="1380.16" y="388.8" width="10.6" height="10.6"/>
<rect x="1391.88" y="377.7" width="10.6" height="10.6"/>
<rect x="1404.75" y="378.9" width="10.6" height="10.6"/>
<rect x="1419.23" y="360.9" width="10.6" height="10.6"/>
<rect x="1431.64" y="353" width="10.6" height="10.6"/>
<rect x="1446.12" y="341.1" width="10.6" height="10.6"/>
<rect x="1464.28" y="309" width="10.6" height="10.6"/>
<rect x="1485.2" y="296.8" width="10.6" height="10.6"/>
<rect x="1504.97" y="288.8" width="10.6" height="10.6"/>
<rect x="1529.33" y="245.4" width="10.6" height="10.6"/>
<rect x="1558.07" y="209.9" width="10.6" height="10.6"/>
<rect x="1565.88" y="208.6" width="10.6" height="10.6"/>
<rect x="1573.01" y="189.6" width="10.6" height="10.6"/>
<rect x="1581.28" y="171.9" width="10.6" height="10.6"/>
<rect x="1589.56" y="163.1" width="10.6" height="10.6"/>
<rect x="1598.06" y="153.9" width="10.6" height="10.6"/>
<rect x="1607.25" y="169.8" width="10.6" height="10.6"/>
<rect x="1615.99" y="114.4" width="10.6" height="10.6"/>
<rect x="1626.1" y="94.1" width="10.6" height="10.6"/>
</g>
<g fill="none" stroke="#141414" stroke-width="1.5" stroke-linejoin="round">
<rect x="1152.37" y="495.6" width="10.6" height="10.6"/>
<rect x="1159.86" y="495.6" width="10.6" height="10.6"/>
<rect x="1166.14" y="490.4" width="10.6" height="10.6"/>
<rect x="1177.56" y="491.7" width="10.6" height="10.6"/>
<rect x="1189.37" y="488.1" width="10.6" height="10.6"/>
<rect x="1206.45" y="480.1" width="10.6" height="10.6"/>
<rect x="1226.61" y="473.5" width="10.6" height="10.6"/>
<rect x="1255.46" y="465.9" width="10.6" height="10.6"/>
<rect x="1283.16" y="456.5" width="10.6" height="10.6"/>
<rect x="1287.87" y="445.4" width="10.6" height="10.6"/>
<rect x="1299.64" y="447.5" width="10.6" height="10.6"/>
<rect x="1312.72" y="435.6" width="10.6" height="10.6"/>
<rect x="1322.81" y="431.5" width="10.6" height="10.6"/>
<rect x="1336.94" y="424.5" width="10.6" height="10.6"/>
<rect x="1353.72" y="409" width="10.6" height="10.6"/>
<rect x="1370.96" y="409" width="10.6" height="10.6"/>
<rect x="1380.16" y="388.8" width="10.6" height="10.6"/>
<rect x="1391.88" y="377.7" width="10.6" height="10.6"/>
<rect x="1404.75" y="378.9" width="10.6" height="10.6"/>
<rect x="1419.23" y="360.9" width="10.6" height="10.6"/>
<rect x="1431.64" y="353" width="10.6" height="10.6"/>
<rect x="1446.12" y="341.1" width="10.6" height="10.6"/>
<rect x="1464.28" y="309" width="10.6" height="10.6"/>
<rect x="1485.2" y="296.8" width="10.6" height="10.6"/>
<rect x="1504.97" y="288.8" width="10.6" height="10.6"/>
<rect x="1529.33" y="245.4" width="10.6" height="10.6"/>
<rect x="1558.07" y="209.9" width="10.6" height="10.6"/>
<rect x="1565.88" y="208.6" width="10.6" height="10.6"/>
<rect x="1573.01" y="189.6" width="10.6" height="10.6"/>
<rect x="1581.28" y="171.9" width="10.6" height="10.6"/>
<rect x="1589.56" y="163.1" width="10.6" height="10.6"/>
<rect x="1598.06" y="153.9" width="10.6" height="10.6"/>
<rect x="1607.25" y="169.8" width="10.6" height="10.6"/>
<rect x="1615.99" y="114.4" width="10.6" height="10.6"/>
<rect x="1626.1" y="94.1" width="10.6" height="10.6"/>
</g>
<polyline fill="none" stroke="#27ad60" stroke-width="1.8" stroke-linejoin="round" points="1153.2,507.3 1208.3,491.5 1255.8,472.5 1270,464.9 1349.1,419.8 1380.8,397.7 1417.5,370.3 1457.5,331.7 1489.1,301.6 1518.5,270 1544.5,239.6 1570,206.4 1607,152.2 1626,125.6 1636.1,107.9"/>
<rect x="1153.3" y="58.35" width="482.7" height="508.55" fill="none" stroke="#1a1a1a" stroke-width="1.4"/>
<text transform="translate(1164 81.7) scale(1 0.96)" font-size="23.5" stroke="#000" stroke-width="0.55">Residual</text>
<text transform="translate(1164 108.9) scale(1 0.96)" font-size="23.5" stroke="#000" stroke-width="0.55">Misrepaired</text>
<path d="M1337.4 78.3H1402.5M1337.4 74.6v7.4M1402.5 74.6v7.4" stroke="#d95f02" stroke-width="1.45" fill="none"/>
<path d="M1361.95 82.25L1369.95 70L1377.95 82.25Z" fill="#d95f02"/>
<path d="M1337.4 105.1H1402.5M1337.4 101.4v7.4M1402.5 101.4v7.4" stroke="#27ad60" stroke-width="1.45" fill="none"/>
<rect x="1364.05" y="99.2" width="11.8" height="11.8" fill="#27ad60"/>
<text transform="translate(1176.49 591.3) scale(1 1.06)" font-size="22" text-anchor="middle" stroke="#000" stroke-width="0.55">5</text>
<text transform="translate(1291.41 591.3) scale(1 1.06)" font-size="22" text-anchor="middle" stroke="#000" stroke-width="0.55">10</text>
<text transform="translate(1406.34 591.3) scale(1 1.06)" font-size="22" text-anchor="middle" stroke="#000" stroke-width="0.55">15</text>
<text transform="translate(1521.27 591.3) scale(1 1.06)" font-size="22" text-anchor="middle" stroke="#000" stroke-width="0.55">20</text>
<text transform="translate(1636.2 591.3) scale(1 1.06)" font-size="22" text-anchor="middle" stroke="#000" stroke-width="0.55">25</text>
<text transform="translate(1391.3 19.9) scale(1 1.01)" font-size="26" text-anchor="middle" stroke="#000" stroke-width="0.55">5 Gy</text>
<text x="1107.6" y="41.9" font-size="21.4" stroke="#000" stroke-width="0.55" letter-spacing="1.4">c)</text>
</g>
<text x="749.4" y="622.7" font-size="26" stroke="#000" stroke-width="0.55">LET<tspan font-size="21" dx="1.3" dy="6">t</tspan><tspan dx="2.1" dy="-6" letter-spacing="0.5"> (keV/µm)</tspan></text>
<text transform="translate(19.7 377.3) rotate(-90) scale(1 0.965)" font-size="26" stroke="#000" stroke-width="0.55" letter-spacing="0.35">Yield<tspan letter-spacing="0" font-size="21" x="62.3 68.8 84.9 100.5 110 115.8" dy="5.8">t=24 h</tspan></text>
</svg>
</body>
</html>
